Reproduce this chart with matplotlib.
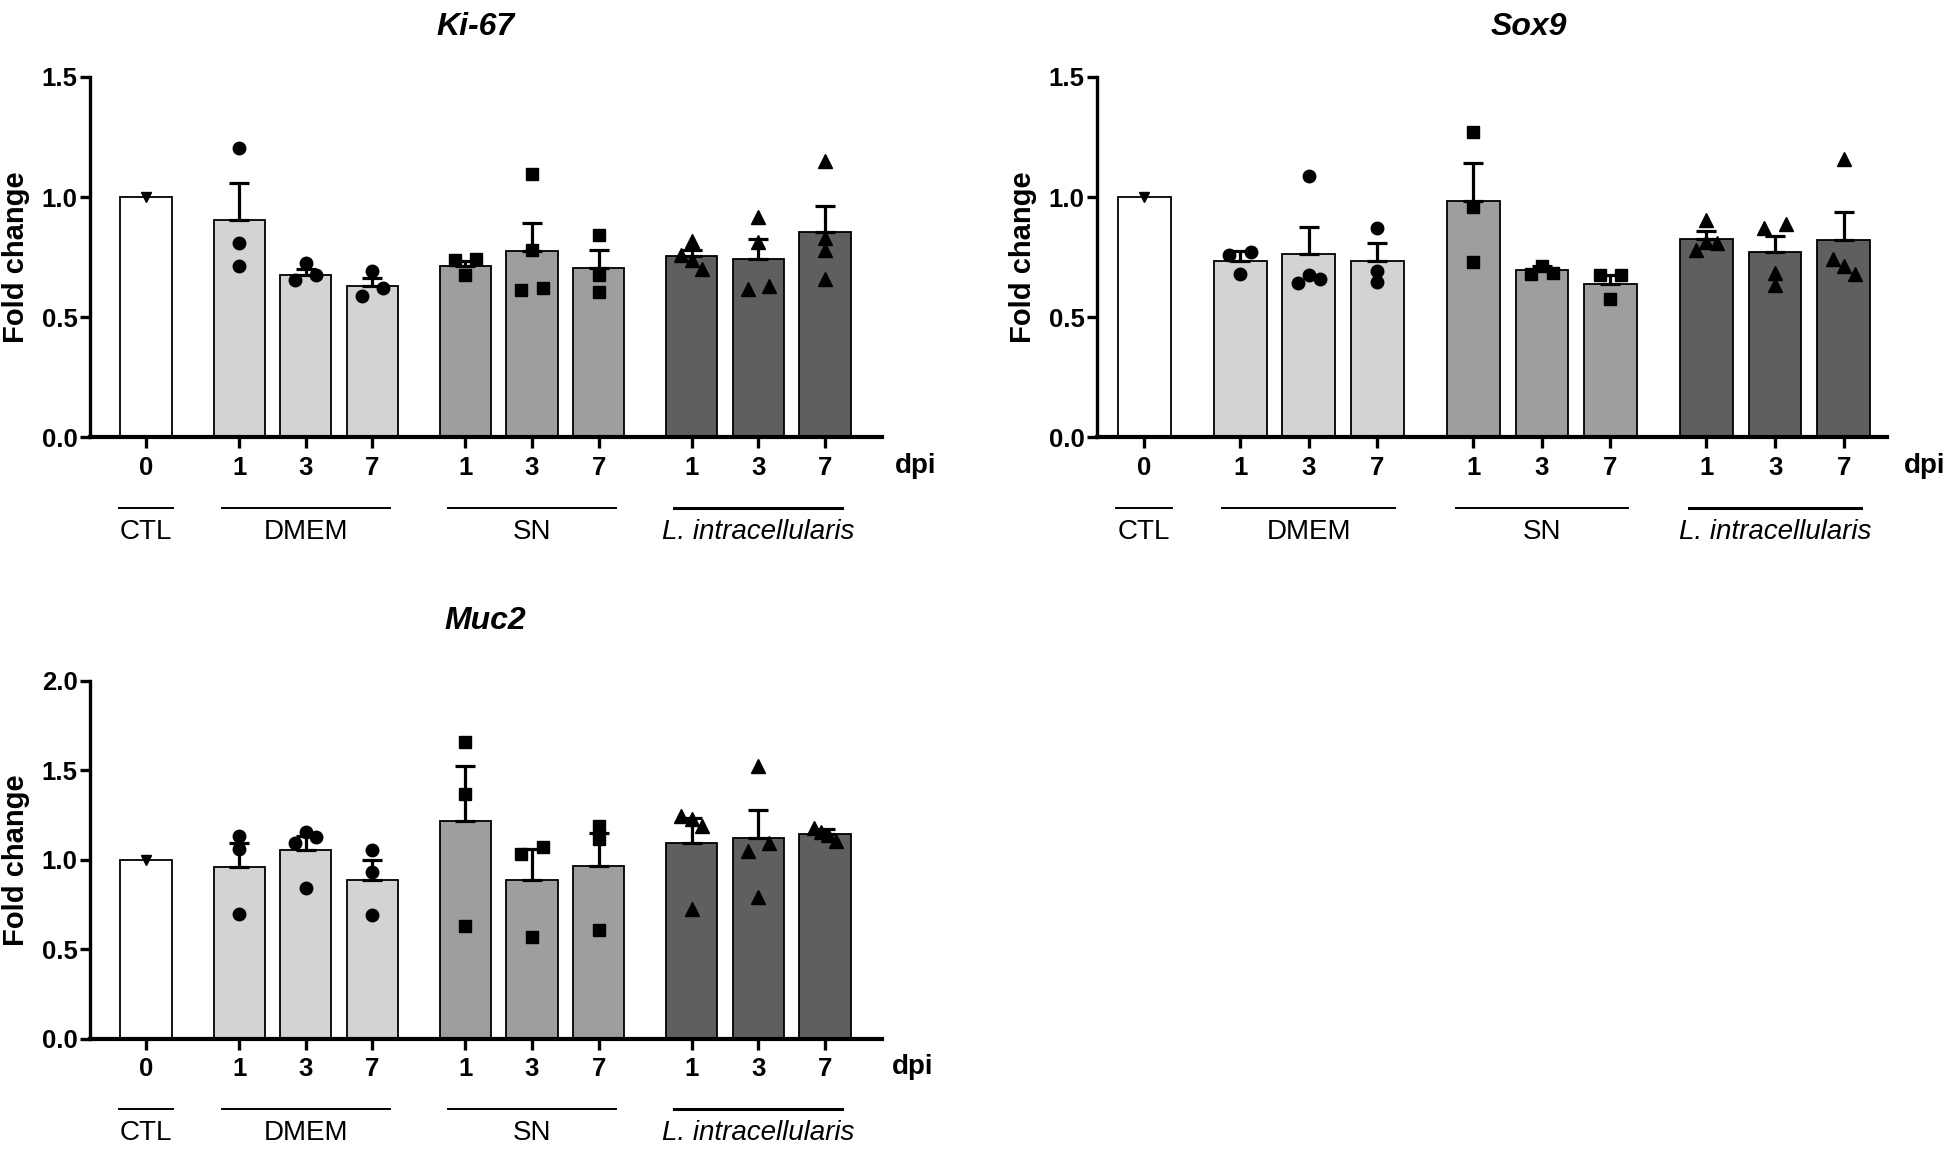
import numpy as np
import matplotlib
matplotlib.use('Agg')
import matplotlib.pyplot as plt

plt.rcParams['font.family'] = ['Liberation Sans', 'DejaVu Sans']

# groups / categories
groups = ['CTL', 'DMEM', 'SN', 'L. intracellularis']
group_sizes = [1, 3, 3, 3]
dpi_labels = ['0', '1', '3', '7', '1', '3', '7', '1', '3', '7']
group_colors = ['#ffffff', '#d3d3d3', '#9e9e9e', '#5f5f5f']
group_markers = ['v', 'o', 's', '^']

# Ki-67
ki67_mean = [1.0, 0.905, 0.678, 0.630, 0.712, 0.776, 0.705, 0.754, 0.743, 0.854]
ki67_sem = [0.0, 0.152, 0.025, 0.035, 0.021, 0.117, 0.074, 0.025, 0.081, 0.110]
ki67_points = [[1.0],
               [1.204, 0.811, 0.712], [0.654, 0.724, 0.675], [0.587, 0.692, 0.623],
               [0.737, 0.675, 0.742], [1.095, 0.782, 0.612, 0.623], [0.842, 0.678, 0.605],
               [0.818, 0.758, 0.737, 0.703], [0.918, 0.814, 0.619, 0.629], [1.151, 0.828, 0.782, 0.661]]

# Sox9
sox9_mean = [1.0, 0.734, 0.765, 0.734, 0.985, 0.696, 0.638, 0.826, 0.770, 0.820]
sox9_sem = [0.0, 0.043, 0.110, 0.074, 0.158, 0.017, 0.037, 0.033, 0.068, 0.120]
sox9_points = [[1.0],
               [0.759, 0.770, 0.680], [1.089, 0.641, 0.674, 0.659], [0.873, 0.692, 0.645],
               [1.270, 0.961, 0.731], [0.680, 0.713, 0.683], [0.675, 0.675, 0.575],
               [0.905, 0.780, 0.815, 0.808], [0.870, 0.887, 0.685, 0.634], [1.160, 0.741, 0.713, 0.682]]

# Muc2
muc2_mean = [1.0, 0.958, 1.055, 0.890, 1.218, 0.888, 0.968, 1.097, 1.120, 1.147]
muc2_sem = [0.0, 0.136, 0.079, 0.111, 0.309, 0.172, 0.185, 0.136, 0.157, 0.024]
muc2_points = [[1.0],
               [1.134, 1.060, 0.699], [1.097, 1.157, 1.131, 0.842], [1.055, 0.934, 0.690],
               [1.657, 1.370, 0.630], [1.036, 1.070, 0.569], [1.190, 1.116, 0.606],
               [1.246, 1.227, 1.190, 0.727], [1.527, 1.051, 1.094, 0.791], [1.180, 1.157, 1.138, 1.107]]

# x positions: unit spacing in a group, bigger gap between groups
pos, bar_group = [], []
start = 0.0
for g, n in enumerate(group_sizes):
    for k in range(n):
        pos.append(start + k)
        bar_group.append(g)
    start += n - 1 + 1.4
pos = np.array(pos)


def jitter(vals, thr, d=0.16):
    # spread points whose values are too close to be told apart
    vals = np.asarray(vals)
    offs = np.zeros(len(vals))
    if len(vals) < 2:
        return offs
    order = np.argsort(vals)
    clusters, cur = [], [order[0]]
    for a, b in zip(order[:-1], order[1:]):
        if vals[b] - vals[a] < thr:
            cur.append(b)
        else:
            clusters.append(cur)
            cur = [b]
    clusters.append(cur)
    for c in clusters:
        if len(c) > 1:
            c = sorted(c)
            offs[c] = np.linspace(-d, d, len(c))
    return offs


def panel(ax, means, sems, points, ymax, xlim, dpi_x):
    cols = [group_colors[g] for g in bar_group]
    ax.bar(pos, means, width=0.77, color=cols, edgecolor='black', linewidth=1.3, zorder=2)
    ax.errorbar(pos[1:], means[1:], yerr=[np.zeros(len(pos) - 1), sems[1:]], fmt='none',
                ecolor='black', elinewidth=2.3, capsize=7.5, capthick=2.3, zorder=3)
    for i, vals in enumerate(points):
        g = bar_group[i]
        offs = jitter(vals, 0.03 * ymax)
        ms = {'v': 7.5, 'o': 9, 's': 8, '^': 9.5}[group_markers[g]]
        ax.plot(pos[i] + offs, vals, ls='none', marker=group_markers[g], ms=ms,
                color='black', zorder=4, clip_on=False)
    ax.set_xlim(*xlim)
    ax.set_ylim(0, ymax)
    yt = np.arange(0, ymax + 0.01, 0.5)
    ax.set_yticks(yt)
    ax.set_yticklabels(['%.1f' % v for v in yt], fontweight='bold', fontsize=18.5)
    ax.set_xticks(pos)
    ax.set_xticklabels(dpi_labels, fontweight='bold', fontsize=18.5)
    for s in ['top', 'right']:
        ax.spines[s].set_visible(False)
    ax.spines['left'].set_linewidth(2.4)
    ax.spines['bottom'].set_linewidth(3.0)
    ax.tick_params(axis='x', width=2.4, length=8, pad=5)
    ax.tick_params(axis='y', width=2.4, length=7, pad=2)
    ax.text(dpi_x, -0.078, 'dpi', transform=ax.transAxes, ha='left', va='center',
            fontsize=20, fontweight='bold')
    # group underlines and names
    tr = ax.get_xaxis_transform()
    k = 0
    for g, n in enumerate(group_sizes):
        c = pos[k:k + n].mean()
        half = 0.41 + (n - 1) * 0.425
        ax.plot([c - half, c + half], [-0.195, -0.195], color='black',
                lw=2.2 if g == 3 else 1.4, transform=tr, clip_on=False)
        ax.text(c, -0.262, groups[g], transform=tr, ha='center', va='center', fontsize=20,
                style='italic' if g == 3 else 'normal')
        k += n
    ax.text(-0.094, 0.5, 'Fold change', transform=ax.transAxes, rotation=90,
            ha='center', va='center', fontsize=21, fontweight='bold')


fig = plt.figure(figsize=(19.49, 11.54), dpi=100)
ax1 = fig.add_axes([0.0462, 0.6209, 0.4064, 0.3124])
ax2 = fig.add_axes([0.5628, 0.6209, 0.4053, 0.3124])
ax3 = fig.add_axes([0.0462, 0.0997, 0.4064, 0.3102])

panel(ax1, ki67_mean, ki67_sem, ki67_points, 1.5, (-0.84, 11.06), 1.016)
panel(ax2, sox9_mean, sox9_sem, sox9_points, 1.5, (-0.69, 10.83), 1.022)
panel(ax3, muc2_mean, muc2_sem, muc2_points, 2.0, (-0.84, 11.06), 1.012)

tkw = dict(ha='center', va='center', fontsize=23, fontweight='bold', style='italic')
fig.text(476 / 1949, 1 - 27 / 1154, 'Ki-67', **tkw)
fig.text(1529 / 1949, 1 - 27 / 1154, 'Sox9', **tkw)
fig.text(485 / 1949, 1 - 621 / 1154, 'Muc2', **tkw)

fig.savefig('out.png', dpi=100)
